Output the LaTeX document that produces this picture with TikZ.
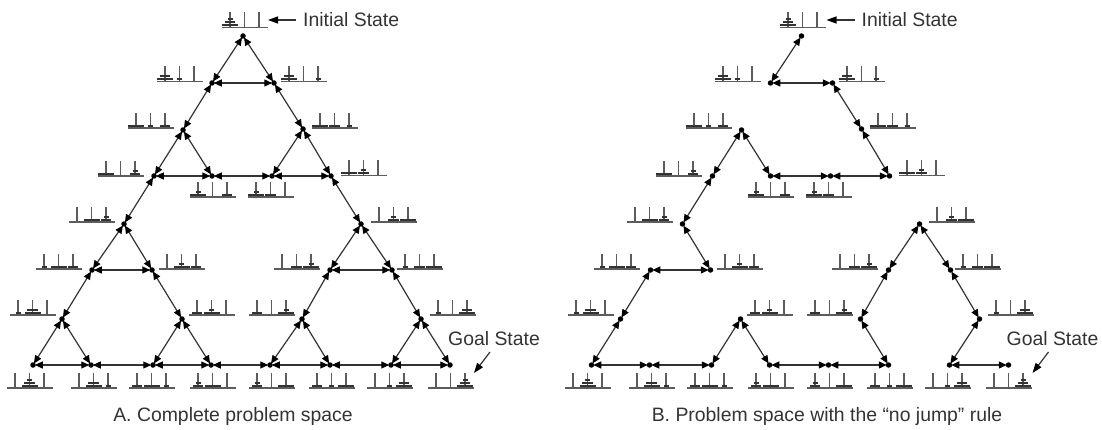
\documentclass[tikz,border=0pt]{standalone}
\usepackage{fontspec}
\setmainfont{Liberation Sans}
\usetikzlibrary{arrows.meta}
\definecolor{ink}{HTML}{333333}
\tikzset{
  vtx/.style={circle,fill=black,minimum size=5.5pt,inner sep=0pt,outer sep=0pt},
  edgeline/.style={draw=ink,line width=1.2pt,shorten <=-1pt,shorten >=-1pt,{Triangle[length=8pt,width=7pt,color=black]}-{Triangle[length=8pt,width=7pt,color=black]}},
  txt/.style={inner sep=0pt,text=ink,font=\fontsize{19.4}{23}\selectfont},
  pointer/.style={draw=ink,line width=1.2pt,-{Triangle[length=10pt,width=7pt,color=black]}},
  pegline/.style={draw=ink!80,line width=1.1pt},
  baseln/.style={draw=ink!80,line width=1.8pt},
  disc/.style={fill=ink}
}
\newcommand{\hsetw}[1]{\ifcase#1\def\hw{0}\or\def\hw{5}\or\def\hw{10.5}\or\def\hw{16}\fi}
\newcommand{\hpeg}[3]{%
  \draw[pegline] (#1,#2) -- (#1,#2-15);
  \foreach \hd [count=\hi] in {#3}{%
    \hsetw{\hd}%
    \pgfmathsetmacro{\htop}{#2-1-(\hi-1)*3.1}%
    \pgfmathsetmacro{\hxa}{#1-\hw/2}%
    \pgfmathsetmacro{\hxb}{#1+\hw/2}%
    \pgfmathsetmacro{\hyb}{\htop-2.2}%
    \fill[disc] (\hxa,\htop) rectangle (\hxb,\hyb);
  }%
}
\newcommand{\hanoi}[5]{%
  \pgfmathsetmacro{\hleft}{#1}%
  \pgfmathsetmacro{\hpa}{\hleft+8}%
  \pgfmathsetmacro{\hpb}{\hleft+22.5}%
  \pgfmathsetmacro{\hpc}{\hleft+37}%
  \pgfmathsetmacro{\hright}{\hleft+45.5}%
  \hpeg{\hpa}{#2}{#3}%
  \hpeg{\hpb}{#2}{#4}%
  \hpeg{\hpc}{#2}{#5}%
  \draw[baseln] (\hleft,#2) -- (\hright,#2);
}
\newcommand{\iconset}[1]{%
  \hanoi{#1+222}{27.5}{3,2,1}{0}{0}
  \hanoi{#1+157}{81.5}{3,2}{1}{0}
  \hanoi{#1+281}{81.5}{3,2}{0}{1}
  \hanoi{#1+128}{128}{3}{1}{2}
  \hanoi{#1+312}{128}{3}{2}{1}
  \hanoi{#1+98}{176}{3}{0}{2,1}
  \hanoi{#1+190}{197}{3,1}{0}{2}
  \hanoi{#1+248}{197}{3,1}{2}{0}
  \hanoi{#1+341}{175.5}{3}{2,1}{0}
  \hanoi{#1+69}{222}{0}{3}{2,1}
  \hanoi{#1+371}{222}{0}{2,1}{3}
  \hanoi{#1+36}{269}{1}{3}{2}
  \hanoi{#1+159}{269}{0}{3,1}{2}
  \hanoi{#1+274}{269}{0}{2}{3,1}
  \hanoi{#1+397}{269}{1}{2}{3}
  \hanoi{#1+10}{315}{1}{3,2}{0}
  \hanoi{#1+189}{315}{2}{3,1}{0}
  \hanoi{#1+249}{315}{2}{0}{3,1}
  \hanoi{#1+430}{315}{1}{0}{3,2}
  \hanoi{#1+7}{388}{0}{3,2,1}{0}
  \hanoi{#1+71}{388}{0}{3,2}{1}
  \hanoi{#1+129}{388}{2}{3}{1}
  \hanoi{#1+190}{388}{2,1}{3}{0}
  \hanoi{#1+249}{388}{2,1}{0}{3}
  \hanoi{#1+309}{388}{2}{1}{3}
  \hanoi{#1+367}{388}{0}{1}{3,2}
  \hanoi{#1+428}{388}{0}{0}{3,2,1}
}
\begin{document}
\begin{tikzpicture}[x=1pt,y=-1pt]
\useasboundingbox (0,0) rectangle (1102,430);
\iconset{0}
\iconset{558}
% state vertices of both panels
\foreach \pf/\dx in {a/0,b/558.5}{
  \foreach \n/\vx/\vy in {
    t/243/36, l2a/212/83, l2b/274/83, l3a/183/130, l3b/303/129,
    l4a/154/176, l4b/212/176, l4c/272/176, l4d/331/176,
    l5a/124/224, l5b/361/224,
    l6a/92/270, l6b/152/270, l6c/330/270, l6d/392/270,
    l7a/62/319, l7b/182/319, l7c/302/319, l7d/421/319,
    b1/33/365, b2/91/365, b3/153/365, b4/211/365, b5/270/365, b6/330/365, b7/391/365, b8/450/365}{
    \node[vtx] (\pf\n) at ({\dx+\vx},\vy) {};
  }
  \coordinate (\pf init) at ({\dx+268},20);
  \coordinate (\pf goalfrom) at ({\dx+490},352);
  \coordinate (\pf goalto) at ({\dx+474},373);
  \node[txt,anchor=west] (\pf inittext) at ({\dx+303},19.5) {Initial State};
  \node[txt] (\pf goaltext) at ({\dx+494},338.5) {Goal State};
  \draw[pointer] ([xshift=-7pt,yshift=-0.5pt]\pf inittext.west) -- (\pf init);
  \draw[pointer] (\pf goalfrom) -- (\pf goalto);
}
% A: complete problem space
\foreach \u/\v in {
  t/l2a,t/l2b,l2a/l2b,l2a/l3a,l2b/l3b,l3a/l4a,l3a/l4b,l3b/l4c,l3b/l4d,l4a/l4b,l4b/l4c,l4c/l4d,
  l4a/l5a,l4d/l5b,
  l5a/l6a,l5a/l6b,l6a/l6b,l6a/l7a,l6b/l7b,l7a/b1,l7a/b2,l7b/b3,l7b/b4,b1/b2,b2/b3,b3/b4,
  b4/b5,
  l5b/l6c,l5b/l6d,l6c/l6d,l6c/l7c,l6d/l7d,l7c/b5,l7c/b6,l7d/b7,l7d/b8,b5/b6,b6/b7,b7/b8}{
  \draw[edgeline] (a\u) -- (a\v);
}
% B: no-jump path
\foreach \u/\v in {
  t/l2a,l2a/l2b,l2b/l3b,l3b/l4d,l4d/l4c,l4c/l4b,l4b/l3a,l3a/l4a,l4a/l5a,l5a/l6b,l6b/l6a,l6a/l7a,l7a/b1,
  b1/b2,b2/b3,b3/l7b,l7b/b4,b4/b5,b5/b6,b6/l7c,l7c/l6c,l6c/l5b,l5b/l6d,l6d/l7d,l7d/b7,b7/b8}{
  \draw[edgeline] (b\u) -- (b\v);
}
\node[txt] (capa) at (233,416) {A. Complete problem space};
\node[txt] (capb) at (827,416) {B. Problem space with the “no jump” rule};
\end{tikzpicture}
\end{document}
